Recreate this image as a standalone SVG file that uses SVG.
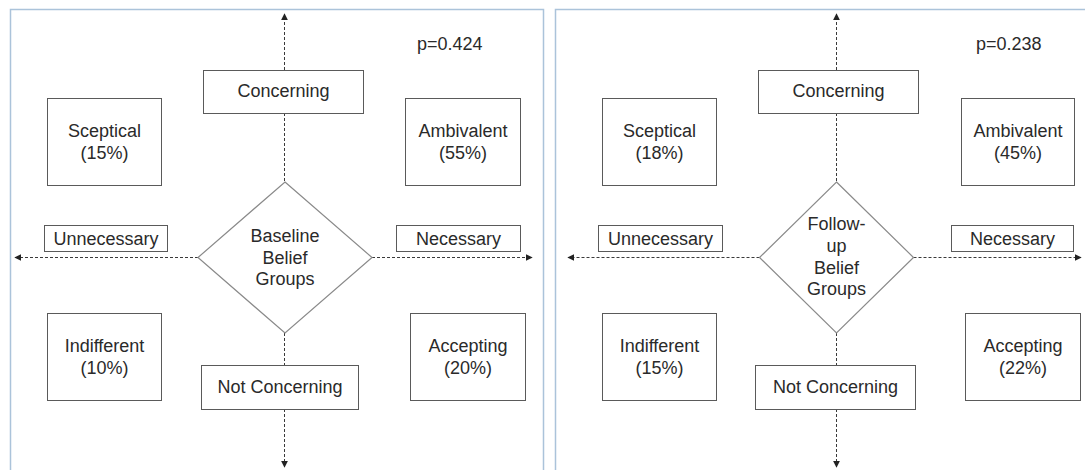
<svg xmlns="http://www.w3.org/2000/svg" width="1085" height="470" viewBox="0 0 1085 470">
<style>
.panel{fill:#ffffff;stroke:#abc3da;stroke-width:1.5}
.box{fill:#ffffff;stroke:#5a5a5a;stroke-width:1}
.dia{fill:#ffffff;stroke:#8a8a8a;stroke-width:1.2}
.t{font-family:"Liberation Sans",Arial,sans-serif;font-size:18px;fill:#2a2a2a;text-anchor:middle}
.p{font-family:"Liberation Sans",Arial,sans-serif;font-size:18px;fill:#2a2a2a}
.ax{fill:none;stroke:#3a3a3a;stroke-width:1;stroke-dasharray:3 2}
</style>
<defs>
<marker id="ah" viewBox="0 0 10 10" refX="9" refY="5" markerWidth="7" markerHeight="7" markerUnits="userSpaceOnUse" orient="auto">
<path d="M0,0 L10,5 L0,10 z" fill="#222"/>
</marker>
</defs>
<rect x="0" y="0" width="1085" height="470" fill="#ffffff"/>
<rect class="panel" x="10.5" y="9.5" width="533" height="480"/>
<rect class="panel" x="555.5" y="9.5" width="540" height="480"/>

<g id="connectors">
<line class="ax" x1="284.5" y1="70" x2="284.5" y2="14" marker-end="url(#ah)"/>
<line class="ax" x1="284.5" y1="113" x2="284.5" y2="182"/>
<line class="ax" x1="284.5" y1="333" x2="284.5" y2="365"/>
<line class="ax" x1="284.5" y1="409" x2="284.5" y2="467" marker-end="url(#ah)"/>
<line class="ax" x1="198" y1="257.5" x2="15" y2="257.5" marker-end="url(#ah)"/>
<line class="ax" x1="372" y1="257.5" x2="532" y2="257.5" marker-end="url(#ah)"/>
<line class="ax" x1="836.5" y1="70" x2="836.5" y2="14" marker-end="url(#ah)"/>
<line class="ax" x1="836.5" y1="113" x2="836.5" y2="182"/>
<line class="ax" x1="836.5" y1="333" x2="836.5" y2="365"/>
<line class="ax" x1="836.5" y1="409" x2="836.5" y2="467" marker-end="url(#ah)"/>
<line class="ax" x1="759.5" y1="257.5" x2="568" y2="257.5" marker-end="url(#ah)"/>
<line class="ax" x1="913.5" y1="257.5" x2="1081" y2="257.5" marker-end="url(#ah)"/>
</g>

<g id="p-baseline"><text class="p" x="417" y="50">p=0.424</text></g>
<g id="concerning-baseline"><rect class="box" x="203.5" y="70.5" width="160" height="43"/><text class="t" x="283.5" y="97">Concerning</text></g>
<g id="sceptical-baseline"><rect class="box" x="47.5" y="98.5" width="114" height="87"/><text class="t" x="104.5" y="137">Sceptical</text><text class="t" x="104.5" y="159">(15%)</text></g>
<g id="ambivalent-baseline"><rect class="box" x="405.5" y="98.5" width="115" height="87"/><text class="t" x="463" y="137">Ambivalent</text><text class="t" x="463" y="159">(55%)</text></g>
<g id="unnecessary-baseline"><rect class="box" x="44.5" y="225.5" width="123" height="26"/><text class="t" x="106" y="245">Unnecessary</text></g>
<g id="necessary-baseline"><rect class="box" x="396.5" y="225.5" width="124" height="26"/><text class="t" x="458.5" y="245">Necessary</text></g>
<g id="diamond-baseline"><polygon class="dia" points="285,182 372,257.5 285,333 198,257.5"/><text class="t" x="285" y="242">Baseline</text><text class="t" x="285" y="264">Belief</text><text class="t" x="285" y="285">Groups</text></g>
<g id="indifferent-baseline"><rect class="box" x="47.5" y="313.5" width="114" height="87"/><text class="t" x="104.5" y="352">Indifferent</text><text class="t" x="104.5" y="374">(10%)</text></g>
<g id="accepting-baseline"><rect class="box" x="410.5" y="313.5" width="115" height="87"/><text class="t" x="468" y="352">Accepting</text><text class="t" x="468" y="374">(20%)</text></g>
<g id="notconcerning-baseline"><rect class="box" x="201.5" y="365.5" width="157" height="44"/><text class="t" x="280" y="393">Not Concerning</text></g>

<g id="p-followup"><text class="p" x="976" y="50">p=0.238</text></g>
<g id="concerning-followup"><rect class="box" x="758.5" y="70.5" width="160" height="43"/><text class="t" x="838.5" y="97">Concerning</text></g>
<g id="sceptical-followup"><rect class="box" x="602.5" y="98.5" width="114" height="87"/><text class="t" x="659.5" y="137">Sceptical</text><text class="t" x="659.5" y="159">(18%)</text></g>
<g id="ambivalent-followup"><rect class="box" x="961.5" y="98.5" width="113" height="87"/><text class="t" x="1018" y="137">Ambivalent</text><text class="t" x="1018" y="159">(45%)</text></g>
<g id="unnecessary-followup"><rect class="box" x="598.5" y="225.5" width="124" height="26"/><text class="t" x="660.5" y="245">Unnecessary</text></g>
<g id="necessary-followup"><rect class="box" x="951.5" y="225.5" width="122" height="26"/><text class="t" x="1012.5" y="245">Necessary</text></g>
<g id="diamond-followup"><polygon class="dia" points="836.5,182 913.5,257.5 836.5,333 759.5,257.5"/><text class="t" x="836.5" y="230">Follow-</text><text class="t" x="836.5" y="252">up</text><text class="t" x="836.5" y="274">Belief</text><text class="t" x="836.5" y="295">Groups</text></g>
<g id="indifferent-followup"><rect class="box" x="602.5" y="313.5" width="114" height="87"/><text class="t" x="659.5" y="352">Indifferent</text><text class="t" x="659.5" y="374">(15%)</text></g>
<g id="accepting-followup"><rect class="box" x="965.5" y="313.5" width="115" height="87"/><text class="t" x="1023" y="352">Accepting</text><text class="t" x="1023" y="374">(22%)</text></g>
<g id="notconcerning-followup"><rect class="box" x="755.5" y="365.5" width="160" height="44"/><text class="t" x="835.5" y="393">Not Concerning</text></g>
</svg>
